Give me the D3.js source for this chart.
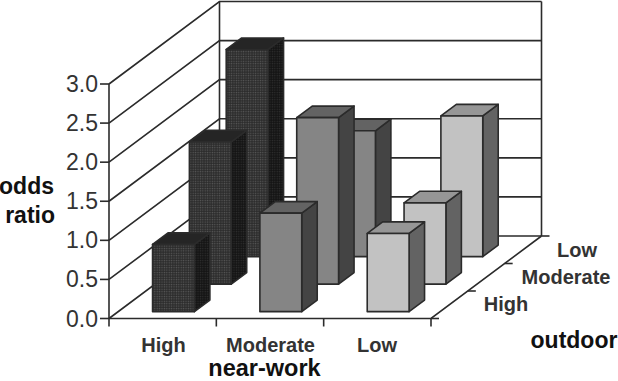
<!DOCTYPE html>
<html>
<head>
<meta charset="utf-8">
<script src="https://cdn.jsdelivr.net/npm/d3@7"></script>
<style>
  body { margin: 0; background: #fff; }
  text { font-family: "Liberation Sans", Arial, sans-serif; }
</style>
</head>
<body>
<div id="chart"></div>
<script>
// values
const nearWork = ["High", "Moderate", "Low"];
const outdoor = ["High", "Moderate", "Low"];
const yTicks = [0, 0.5, 1, 1.5, 2, 2.5, 3];
const oddsHighNear = [0.86, 1.82, 2.65];
const oddsModerateNear = [1.26, 2.13, 1.61];
const oddsLowNear = [1.0, 1.04, 1.8];
const oddsByNear = [oddsHighNear, oddsModerateNear, oddsLowNear];

const width = 618, height = 381;
const lineColor = "#2b2b2b";

// front plane scales, plus the shift that goes with depth into the picture
const xScale = d3.scaleLinear().domain([0, 3]).range([109, 431]);
const yScale = d3.scaleLinear().domain([0, 3]).range([318.5, 84]);
const depthX = d3.scaleLinear().domain([0, 3]).range([0, 110.5]);
const depthY = d3.scaleLinear().domain([0, 3]).range([0, -82.5]);

const px = (c, d) => xScale(c) + depthX(d);
const py = (d, v) => yScale(v) + depthY(d);
const pt = (c, d, v) => [px(c, d), py(d, v)];

let svg = d3.select("#chart").append("svg")
    .attr("width", width)
    .attr("height", height)
    .style("display", "block");

createDefs(svg);
createWalls(svg);
createBars(svg);
createLabels(svg);

function createDefs(svg){
    let defs = svg.append("defs");

    let dots = defs.append("pattern")
        .attr("id", "dots")
        .attr("width", 2.4)
        .attr("height", 2.4)
        .attr("patternUnits", "userSpaceOnUse");
    dots.append("rect").attr("width", 2.4).attr("height", 2.4).attr("fill", "#2c2c2c");
    dots.append("circle").attr("cx", 1.2).attr("cy", 1.2).attr("r", 0.7).attr("fill", "#5a5a5a");

    let dotsDark = defs.append("pattern")
        .attr("id", "dotsDark")
        .attr("width", 2.4)
        .attr("height", 2.4)
        .attr("patternUnits", "userSpaceOnUse");
    dotsDark.append("rect").attr("width", 2.4).attr("height", 2.4).attr("fill", "#141414");
    dotsDark.append("circle").attr("cx", 1.2).attr("cy", 1.2).attr("r", 0.7).attr("fill", "#303030");
}

function createWalls(svg){
    let g = svg.append("g")
        .attr("stroke", lineColor)
        .attr("stroke-width", 1.6)
        .attr("fill", "none");

    // grid lines on the left and back walls
    g.selectAll(".grid")
        .data(yTicks)
        .enter()
        .append("polyline")
            .attr("points", (v) => [pt(0, 0, v), pt(0, 3, v), pt(3, 3, v)].join(" "));

    // uprights
    let uprights = [[0, 0], [0, 3], [3, 3]];
    g.selectAll(".upright")
        .data(uprights)
        .enter()
        .append("line")
            .attr("x1", (d) => px(d[0], d[1]))
            .attr("x2", (d) => px(d[0], d[1]))
            .attr("y1", (d) => py(d[1], 0))
            .attr("y2", (d) => py(d[1], 3));

    // floor edges
    g.append("polyline")
        .attr("points", [pt(0, 0, 0), pt(3, 0, 0), pt(3, 3, 0)].join(" "));

    // y ticks
    g.selectAll(".ytick")
        .data(yTicks)
        .enter()
        .append("line")
            .attr("x1", xScale(0) - 9)
            .attr("x2", xScale(0))
            .attr("y1", (v) => yScale(v))
            .attr("y2", (v) => yScale(v));

    // near-work ticks
    g.selectAll(".xtick")
        .data(d3.range(4))
        .enter()
        .append("line")
            .attr("x1", (c) => xScale(c))
            .attr("x2", (c) => xScale(c))
            .attr("y1", yScale(0))
            .attr("y2", yScale(0) + 8);

    // outdoor ticks
    g.selectAll(".ztick")
        .data(d3.range(4))
        .enter()
        .append("line")
            .attr("x1", (d) => px(3, d))
            .attr("x2", (d) => px(3, d) + 8)
            .attr("y1", (d) => py(d, 0))
            .attr("y2", (d) => py(d, 0));
}

function createBars(svg){
    let styles = [
        {front: "url(#dots)", side: "url(#dotsDark)", top: "#252525"},
        {front: "#858585", side: "#444444", top: "#636363"},
        {front: "#c2c2c2", side: "#636363", top: "#969696"}
    ];
    let barLeft = 0.32, barWidth = 0.39, barFront = 0.25, barDepth = 0.42;

    let g = svg.append("g")
        .attr("stroke", lineColor)
        .attr("stroke-width", 1.6)
        .attr("stroke-linejoin", "round");

    // back row first so that nearer bars cover it
    for (let k = outdoor.length - 1; k >= 0; k--){
        nearWork.forEach((name, i) => {
            let v = oddsByNear[i][k];
            let x0 = i + barLeft, x1 = x0 + barWidth;
            let d0 = k + barFront, d1 = d0 + barDepth;
            let bar = g.append("g");
            bar.append("polygon")
                .attr("fill", styles[i].side)
                .attr("points", [pt(x1, d0, 0), pt(x1, d1, 0), pt(x1, d1, v), pt(x1, d0, v)].join(" "));
            bar.append("polygon")
                .attr("fill", styles[i].top)
                .attr("points", [pt(x0, d0, v), pt(x1, d0, v), pt(x1, d1, v), pt(x0, d1, v)].join(" "));
            bar.append("polygon")
                .attr("fill", styles[i].front)
                .attr("points", [pt(x0, d0, 0), pt(x1, d0, 0), pt(x1, d0, v), pt(x0, d0, v)].join(" "));
        });
    }
}

function createLabels(svg){
    svg.selectAll(".ylabel")
        .data(yTicks)
        .enter()
        .append("text")
            .attr("x", 98)
            .attr("y", (v) => yScale(v) + 8)
            .attr("text-anchor", "end")
            .attr("font-size", 23)
            .attr("fill", "#333")
            .text((v) => d3.format(".1f")(v));

    svg.selectAll(".xlabel")
        .data(nearWork)
        .enter()
        .append("text")
            .attr("x", (d, i) => [163.5, 270.5, 377][i])
            .attr("y", 351.5)
            .attr("text-anchor", "middle")
            .attr("font-size", 20)
            .attr("font-weight", "bold")
            .attr("fill", "#333")
            .text((d) => d);

    svg.selectAll(".zlabel")
        .data(outdoor)
        .enter()
        .append("text")
            .attr("x", (d, i) => [506, 566, 577][i])
            .attr("y", (d, i) => [311, 284, 257][i])
            .attr("text-anchor", "middle")
            .attr("font-size", 20)
            .attr("font-weight", "bold")
            .attr("fill", "#333")
            .text((d) => d);

    let titles = [
        {text: "odds", x: 54, y: 194, anchor: "end", size: 23},
        {text: "ratio", x: 55, y: 223, anchor: "end", size: 23},
        {text: "near-work", x: 264.5, y: 376, anchor: "middle", size: 23.5},
        {text: "outdoor", x: 574, y: 348, anchor: "middle", size: 23}
    ];
    svg.selectAll(".title")
        .data(titles)
        .enter()
        .append("text")
            .attr("x", (d) => d.x)
            .attr("y", (d) => d.y)
            .attr("text-anchor", (d) => d.anchor)
            .attr("font-size", (d) => d.size)
            .attr("font-weight", "bold")
            .attr("fill", "#111")
            .text((d) => d.text);
}
</script>
</body>
</html>
